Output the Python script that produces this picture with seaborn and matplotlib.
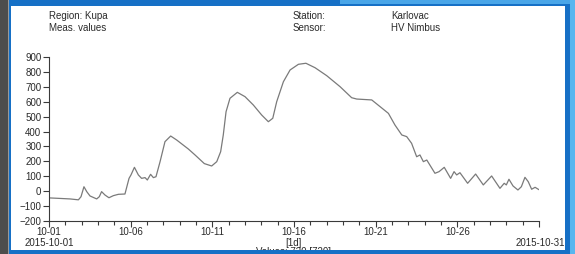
import matplotlib
matplotlib.use("Agg")
import matplotlib.pyplot as plt
from matplotlib.patches import Rectangle
import seaborn as sns
import pandas as pd

# ---- data (day offset from 2015-10-01, measured value) ----
days = [0.0, 0.57, 1.29, 1.8, 1.96, 2.14, 2.31, 2.51, 2.92, 3.08, 3.22, 3.43, 3.67,
        3.94, 4.25, 4.65, 4.9, 5.02, 5.23, 5.47, 5.67, 5.88, 6.02, 6.22, 6.39, 6.55,
        6.8, 7.1, 7.45, 7.82, 8.53, 8.94, 9.51, 9.96, 10.27, 10.51, 10.67, 10.84,
        11.08, 11.53, 12.0, 12.51, 13.02, 13.43, 13.7, 13.94, 14.35, 14.76, 15.27,
        15.73, 16.29, 17.0, 17.82, 18.53, 18.84, 19.76, 20.27, 20.78, 21.18, 21.6,
        21.9, 22.2, 22.51, 22.71, 22.92, 23.13, 23.63, 23.88, 24.2, 24.59, 24.8,
        24.96, 25.16, 25.63, 26.12, 26.59, 27.1, 27.61, 27.87, 28.0, 28.16, 28.41,
        28.71, 28.92, 29.14, 29.34, 29.55, 29.76, 30.0]
values = [-45, -48, -52, -58, -37, 30, -3, -32, -52, -37, -3, -26, -44,
          -30, -21, -19, 86, 109, 160, 109, 86, 91, 75, 113, 91, 97,
          198, 332, 370, 343, 283, 243, 185, 169, 198, 265, 377, 533,
          623, 663, 634, 578, 511, 466, 489, 600, 734, 813, 851,
          858, 828, 775, 701, 627, 618, 612, 567, 522, 444, 377,
          366, 321, 231, 243, 198, 209, 120, 131, 160, 86, 131,
          109, 124, 53, 115, 42, 102, 19, 53, 42, 80, 35,
          8, 30, 93, 64, 13, 26, 10]

yticks = [-200, -100, 0, 100, 200, 300, 400, 500, 600, 700, 800, 900]
xticks = [0, 5, 10, 15, 20, 25, 30]
xticklabels = ["10-01", "10-06", "10-11", "10-16", "10-21", "10-26", ""]

header_left = ["Region: Kupa", "Meas. values"]
header_mid = ["Station:", "Sensor:"]
header_right = ["Karlovac", "HV Nimbus"]
start_label = "2015-10-01"
end_label = "2015-10-31"
interval_label = "[1d]"
count_label = "Values: 720 [720]"

df = pd.DataFrame({"day": days, "value": values})

sns.set_theme(style="white")
plt.rcParams["font.family"] = ["Liberation Sans", "DejaVu Sans"]

W, H = 575, 254
fig = plt.figure(figsize=(W / 100, H / 100), dpi=100)
fig.patch.set_facecolor("#1670c6")

def rect(x0, y0, x1, y1, color, z):
    # pixel coords from top-left
    r = Rectangle((x0 / W, 1 - y1 / H), (x1 - x0) / W, (y1 - y0) / H,
                  transform=fig.transFigure, facecolor=color, edgecolor="none", zorder=z)
    fig.add_artist(r)

rect(0, 0, 8, H, "#4d4d4d", -5)
rect(8, 0, 9, H, "#9a9a9a", -5)
rect(340, 0, 575, 4, "#4aa6e8", -5)
rect(570, 0, 575, H, "#57b6ef", -5)
rect(11, 6, 565, 250, "white", -4)
rect(9, 250, 570, H, "#1670c6", 20)

ax = fig.add_axes([49 / W, 1 - 221 / H, 490 / W, 164 / H])
ax.set_facecolor("none")
sns.lineplot(data=df, x="day", y="value", ax=ax, color="#7a7a7a", linewidth=0.9)

ax.set_xlim(0, 30)
ax.set_ylim(-200, 900)
ax.set_yticks(yticks)
ax.set_xticks(xticks)
ax.set_xticklabels(xticklabels)
ax.set_xticks(list(range(0, 31)), minor=True)
ax.set_xlabel("")
ax.set_ylabel("")
for s in ["top", "right"]:
    ax.spines[s].set_visible(False)
for s in ["left", "bottom"]:
    ax.spines[s].set_color("#3a3a3a")
    ax.spines[s].set_linewidth(0.8)
ax.tick_params(axis="y", which="major", direction="out", length=4, width=0.8,
               color="#3a3a3a", labelsize=7, labelcolor="#2a2a2a", pad=1.5, left=True)
ax.tick_params(axis="x", which="major", direction="out", length=4, width=0.8,
               color="#3a3a3a", labelsize=7, labelcolor="#2a2a2a", pad=0.5, bottom=True)
ax.tick_params(axis="x", which="minor", direction="out", length=3, width=0.8,
               color="#3a3a3a", bottom=True)

tc = "#2a2a2a"
fs = 7
fig.text(49 / W, 1 - 16 / H, header_left[0], fontsize=fs, color=tc, va="center", ha="left")
fig.text(49 / W, 1 - 28 / H, header_left[1], fontsize=fs, color=tc, va="center", ha="left")
fig.text(293 / W, 1 - 16 / H, header_mid[0], fontsize=fs, color=tc, va="center", ha="left")
fig.text(293 / W, 1 - 28 / H, header_mid[1], fontsize=fs, color=tc, va="center", ha="left")
fig.text(391 / W, 1 - 16 / H, header_right[0], fontsize=fs, color=tc, va="center", ha="left")
fig.text(391 / W, 1 - 28 / H, header_right[1], fontsize=fs, color=tc, va="center", ha="left")

fig.text(49 / W, 1 - 242.5 / H, start_label, fontsize=fs, color=tc, va="center", ha="center")
fig.text(565 / W, 1 - 242.5 / H, end_label, fontsize=fs, color=tc, va="center", ha="right")
fig.text(293 / W, 1 - 242.5 / H, interval_label, fontsize=fs, color=tc, va="center", ha="center")
fig.text(293 / W, 1 - 252 / H, count_label, fontsize=fs, color=tc, va="center", ha="center", zorder=1)

fig.savefig("out.png", dpi=100, facecolor=fig.get_facecolor())
